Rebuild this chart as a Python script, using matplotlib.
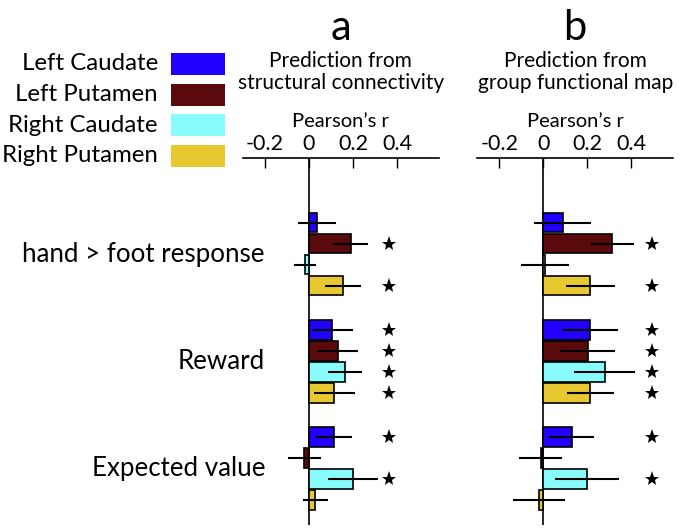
import matplotlib
matplotlib.use('Agg')
import matplotlib.pyplot as plt
import numpy as np
from matplotlib.patches import Rectangle

plt.rcParams['font.family'] = ['Lato', 'DejaVu Sans']

# data
regions = ['Left Caudate', 'Left Putamen', 'Right Caudate', 'Right Putamen']
colors = ['#2200FF', '#5A0A0A', '#88FCFC', '#E8C830']
conditions = ['hand > foot response', 'Reward', 'Expected value']

# panel a: prediction from structural connectivity (rows = conditions)
struct_r = [[0.036, 0.190, -0.020, 0.156],
            [0.105, 0.130, 0.162, 0.114],
            [0.114, -0.021, 0.200, 0.029]]
struct_err = [[0.086, 0.080, 0.050, 0.082],
              [0.093, 0.093, 0.077, 0.093],
              [0.080, 0.076, 0.114, 0.058]]
struct_sig = [[0, 1, 0, 1], [1, 1, 1, 1], [1, 0, 1, 0]]

# panel b: prediction from group functional map
func_r = [[0.088, 0.314, 0.008, 0.214],
          [0.211, 0.202, 0.279, 0.214],
          [0.129, -0.012, 0.199, -0.020]]
func_err = [[0.129, 0.097, 0.108, 0.110],
            [0.128, 0.125, 0.140, 0.107],
            [0.103, 0.098, 0.146, 0.119]]
func_sig = [[0, 1, 0, 1], [1, 1, 1, 1], [1, 0, 1, 0]]

xticks = [-0.2, 0, 0.2, 0.4]
xticklabels = ['-0.2', '0', '0.2', '0.4']

W, H = 680, 528
fig = plt.figure(figsize=(W / 100, H / 100), dpi=100)

group_gap = 5.1
ypos = np.array([[g * group_gap + i for i in range(4)] for g in range(3)])


def panel(left_px, letter, subtitle, vals, errs, sig, star_x):
    top_px, bot_px = 158, 525
    ax = fig.add_axes([left_px / W, 1 - bot_px / H, 195.8 / W, (bot_px - top_px) / H])
    for g in range(3):
        ax.barh(ypos[g], vals[g], height=0.95, color=colors,
                edgecolor='black', linewidth=1.2, zorder=2)
        ax.errorbar(vals[g], ypos[g], xerr=errs[g], fmt='none',
                    ecolor='black', elinewidth=1.5, capsize=0, zorder=3)
        for i in range(4):
            if sig[g][i]:
                ax.plot(star_x, ypos[g][i], marker='*', ms=11, color='black',
                        markeredgewidth=0, clip_on=False, zorder=4)
    ax.axvline(0, color='black', lw=1.2, zorder=1)
    ax.set_xlim(-0.3, 0.59)
    ax.set_ylim((525 - 222.5) / 21, (158 - 222.5) / 21)
    for s in ['left', 'right', 'bottom']:
        ax.spines[s].set_visible(False)
    ax.spines['top'].set_linewidth(1.2)
    ax.set_yticks([])
    ax.xaxis.tick_top()
    ax.set_xticks(xticks)
    ax.set_xticklabels(xticklabels)
    ax.tick_params(axis='x', direction='in', length=7, width=1.0,
                   labelsize=15.5, pad=3)
    ax.set_xlabel("Pearson\u2019s r", fontsize=14.5, labelpad=5)
    ax.xaxis.set_label_position('top')
    cx = (left_px + 195.8 / 2) / W
    fig.text(cx, 1 - 28 / H, letter, ha='center', va='center', fontsize=30)
    fig.text(cx, 1 - 67 / H, subtitle[0], ha='center', va='baseline', fontsize=15)
    fig.text(cx, 1 - 89 / H, subtitle[1], ha='center', va='baseline', fontsize=15)
    return ax


ax_a = panel(243, 'a', ['Prediction from', 'structural connectivity'],
             struct_r, struct_err, struct_sig, 0.362)
ax_b = panel(477.3, 'b', ['Prediction from', 'group functional map'],
             func_r, func_err, func_sig, 0.495)

# condition labels
for g, cond in enumerate(conditions):
    ax_a.text(-0.2, ypos[g].mean(), cond, ha='right', va='center',
              fontsize=18.6, clip_on=False)

# legend
for i, (name, c) in enumerate(zip(regions, colors)):
    yc = 64 + 30.5 * i
    fig.text(158 / W, 1 - yc / H, name, ha='right', va='center', fontsize=17.3)
    fig.patches.append(Rectangle((171 / W, 1 - (yc + 11) / H), 54 / W, 22 / H,
                                 transform=fig.transFigure, facecolor=c,
                                 edgecolor='none'))

fig.savefig('out.png', dpi=100, facecolor='white')
